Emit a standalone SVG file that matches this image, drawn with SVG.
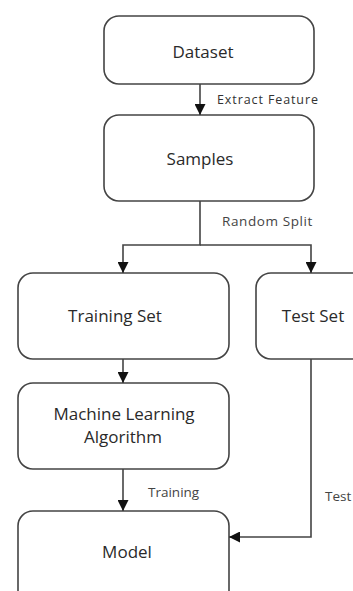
<svg xmlns="http://www.w3.org/2000/svg" width="353" height="591" viewBox="0 0 353 591">
<defs>
<marker id="arr" viewBox="0 0 10 10" refX="10" refY="5" markerWidth="11" markerHeight="11" markerUnits="userSpaceOnUse" orient="auto">
<path d="M0,0 L10,5 L0,10 z" fill="#111"/>
</marker>
<style>
.box{fill:#fff;stroke:#444;stroke-width:1.6}
.t{font-family:"Open Sans","Liberation Sans",sans-serif;font-size:17px;fill:#2a2a2a;text-anchor:middle}
.l{font-family:"Open Sans","Liberation Sans",sans-serif;font-size:13.5px;fill:#444}
.s{font-family:"Open Sans","Liberation Sans",sans-serif;font-size:12.5px;fill:#333;letter-spacing:0.9px}
.c{fill:none;stroke:#444;stroke-width:1.6}
</style>
</defs>
<rect width="353" height="591" fill="#fff"/>
<g id="dataset"><rect class="box" x="104" y="16" width="210" height="68" rx="15"/><text class="t" x="203" y="58">Dataset</text></g>
<g id="samples"><rect class="box" x="104" y="115" width="210" height="86" rx="15"/><text class="t" x="200" y="165">Samples</text></g>
<g id="training-set"><rect class="box" x="18" y="273" width="211" height="86" rx="15"/><text class="t" x="115" y="322">Training Set</text></g>
<g id="test-set"><rect class="box" x="256" y="273" width="120" height="86" rx="15"/><text class="t" x="313" y="322">Test Set</text></g>
<g id="ml"><rect class="box" x="18" y="383" width="211" height="86" rx="15"/><text class="t" x="124" y="420">Machine Learning</text><text class="t" x="123" y="443">Algorithm</text></g>
<g id="model"><rect class="box" x="18" y="511" width="211" height="100" rx="15"/><text class="t" x="127" y="558">Model</text></g>
<g id="connectors">
<path class="c" d="M200,84 V115" marker-end="url(#arr)"/>
<path class="c" d="M200,201 V245 H123 V273" marker-end="url(#arr)"/>
<path class="c" d="M200,245 H311 V273" marker-end="url(#arr)"/>
<path class="c" d="M123,359 V383" marker-end="url(#arr)"/>
<path class="c" d="M123,469 V511" marker-end="url(#arr)"/>
<path class="c" d="M311,359 V537 H229" marker-end="url(#arr)"/>
<text class="s" x="217" y="104">Extract Feature</text>
<text class="l" x="222" y="226" style="letter-spacing:0.6px">Random Split</text>
<text class="l" x="148" y="497">Training</text>
<text class="l" x="325" y="501">Test</text>
</g>
</svg>
